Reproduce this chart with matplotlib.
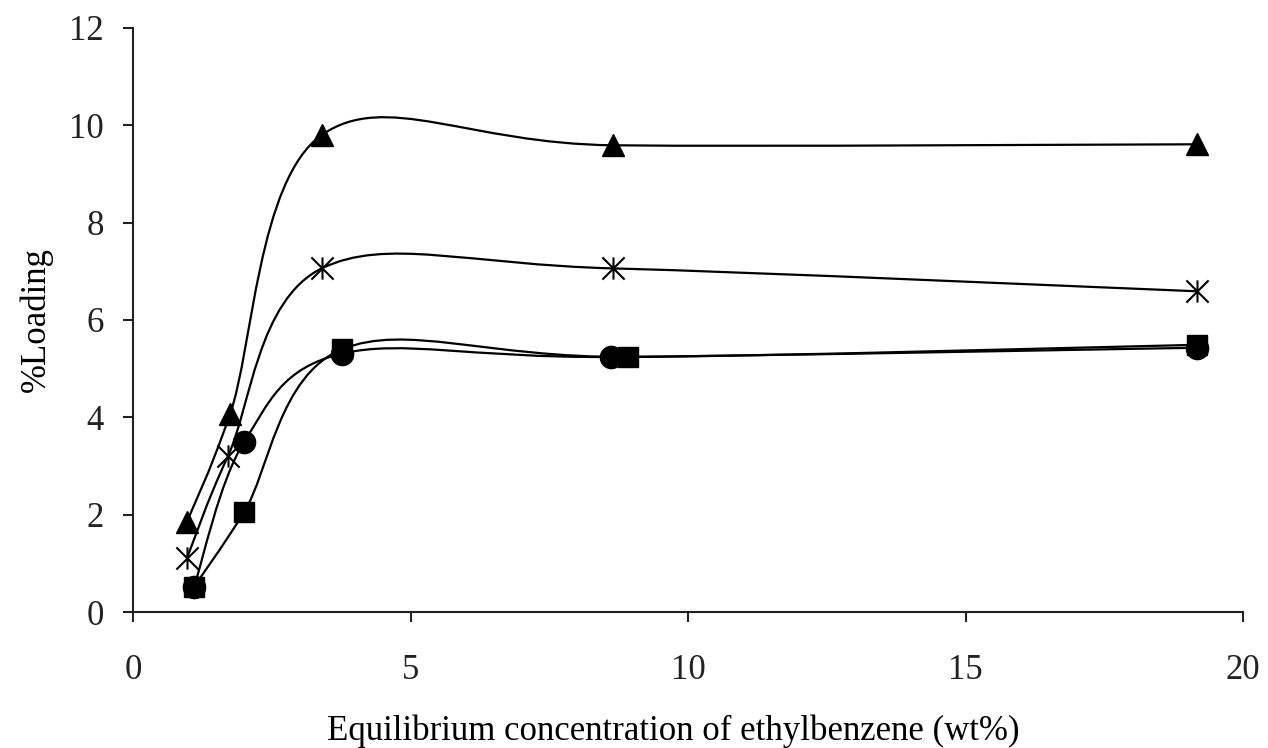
import numpy as np
import matplotlib
matplotlib.use("Agg")
import matplotlib.pyplot as plt
from matplotlib.path import Path
from matplotlib.patches import PathPatch

plt.rcParams['font.family'] = ['Liberation Serif', 'DejaVu Serif']

# Data
tri_x = [0.97, 1.75, 3.40, 8.65, 19.17]
tri_y = [1.85, 4.07, 9.80, 9.59, 9.61]

star_x = [0.97, 1.71, 3.40, 8.65, 19.17]
star_y = [1.10, 3.20, 7.06, 7.06, 6.59]

circ_x = [1.10, 2.00, 3.77, 8.61, 19.17]
circ_y = [0.52, 3.49, 5.31, 5.24, 5.43]

sq_x = [1.10, 2.00, 3.77, 8.92, 19.17]
sq_y = [0.52, 2.05, 5.40, 5.24, 5.49]

x_ticks = [0, 5, 10, 15, 20]
y_ticks = [0, 2, 4, 6, 8, 10, 12]


def smooth_path(xs, ys):
    """Excel-style smoothed line: cubic Bezier through the points."""
    P = np.column_stack([xs, ys]).astype(float)
    n = len(P)
    verts = [P[0]]
    codes = [Path.MOVETO]
    for i in range(n - 1):
        p0 = P[i - 1] if i > 0 else P[i]
        p1 = P[i]
        p2 = P[i + 1]
        p3 = P[i + 2] if i + 2 < n else P[i + 1]
        c1 = p1 + (p2 - p0) / 6.0
        c2 = p2 - (p3 - p1) / 6.0
        verts += [c1, c2, p2]
        codes += [Path.CURVE4] * 3
    return Path(verts, codes)


fig = plt.figure(figsize=(12.68, 7.48), dpi=100)
ax = fig.add_axes([0.1049, 0.1818, 0.8754, 0.7808])

lw = 1.6
ms = 16
for xs, ys in [(tri_x, tri_y), (star_x, star_y), (circ_x, circ_y), (sq_x, sq_y)]:
    ax.add_patch(PathPatch(smooth_path(xs, ys), facecolor='none',
                           edgecolor='black', lw=lw, zorder=2))

star_marker = Path([(-1, -1), (1, 1), (-1, 1), (1, -1), (0, -1.0), (0, 1.0)],
                   [Path.MOVETO, Path.LINETO, Path.MOVETO, Path.LINETO,
                    Path.MOVETO, Path.LINETO])

ax.plot(circ_x, circ_y, 'o', color='black', ms=ms, zorder=3)
ax.plot(sq_x, sq_y, 's', color='black', ms=ms - 1, zorder=4)
ax.plot(tri_x, tri_y, '^', color='black', ms=ms, zorder=3)
ax.plot(star_x, star_y, linestyle='none', marker=star_marker, color='black',
        ms=ms, mew=1.5, zorder=3)

ax.set_xlim(0, 20)
ax.set_ylim(0, 12)
ax.set_xticks(x_ticks)
ax.set_yticks(y_ticks)
ax.set_xticklabels([str(v) for v in x_ticks])
ax.set_yticklabels([str(v) for v in y_ticks])

for s in ['top', 'right']:
    ax.spines[s].set_visible(False)
for s in ['left', 'bottom']:
    ax.spines[s].set_linewidth(1.5)
    ax.spines[s].set_color('#222222')

ax.tick_params(axis='both', direction='out', length=7, width=1.5,
               labelsize=25, colors='#222222')
ax.tick_params(axis='x', pad=23)
ax.tick_params(axis='y', pad=14)

ax.set_xlabel('Equilibrium concentration of ethylbenzene (wt%)',
              fontsize=25, labelpad=20)
ax.xaxis.label.set_x(0.487)
ax.set_ylabel('%Loading', fontsize=25, labelpad=12)

fig.savefig('out.png', dpi=100)
